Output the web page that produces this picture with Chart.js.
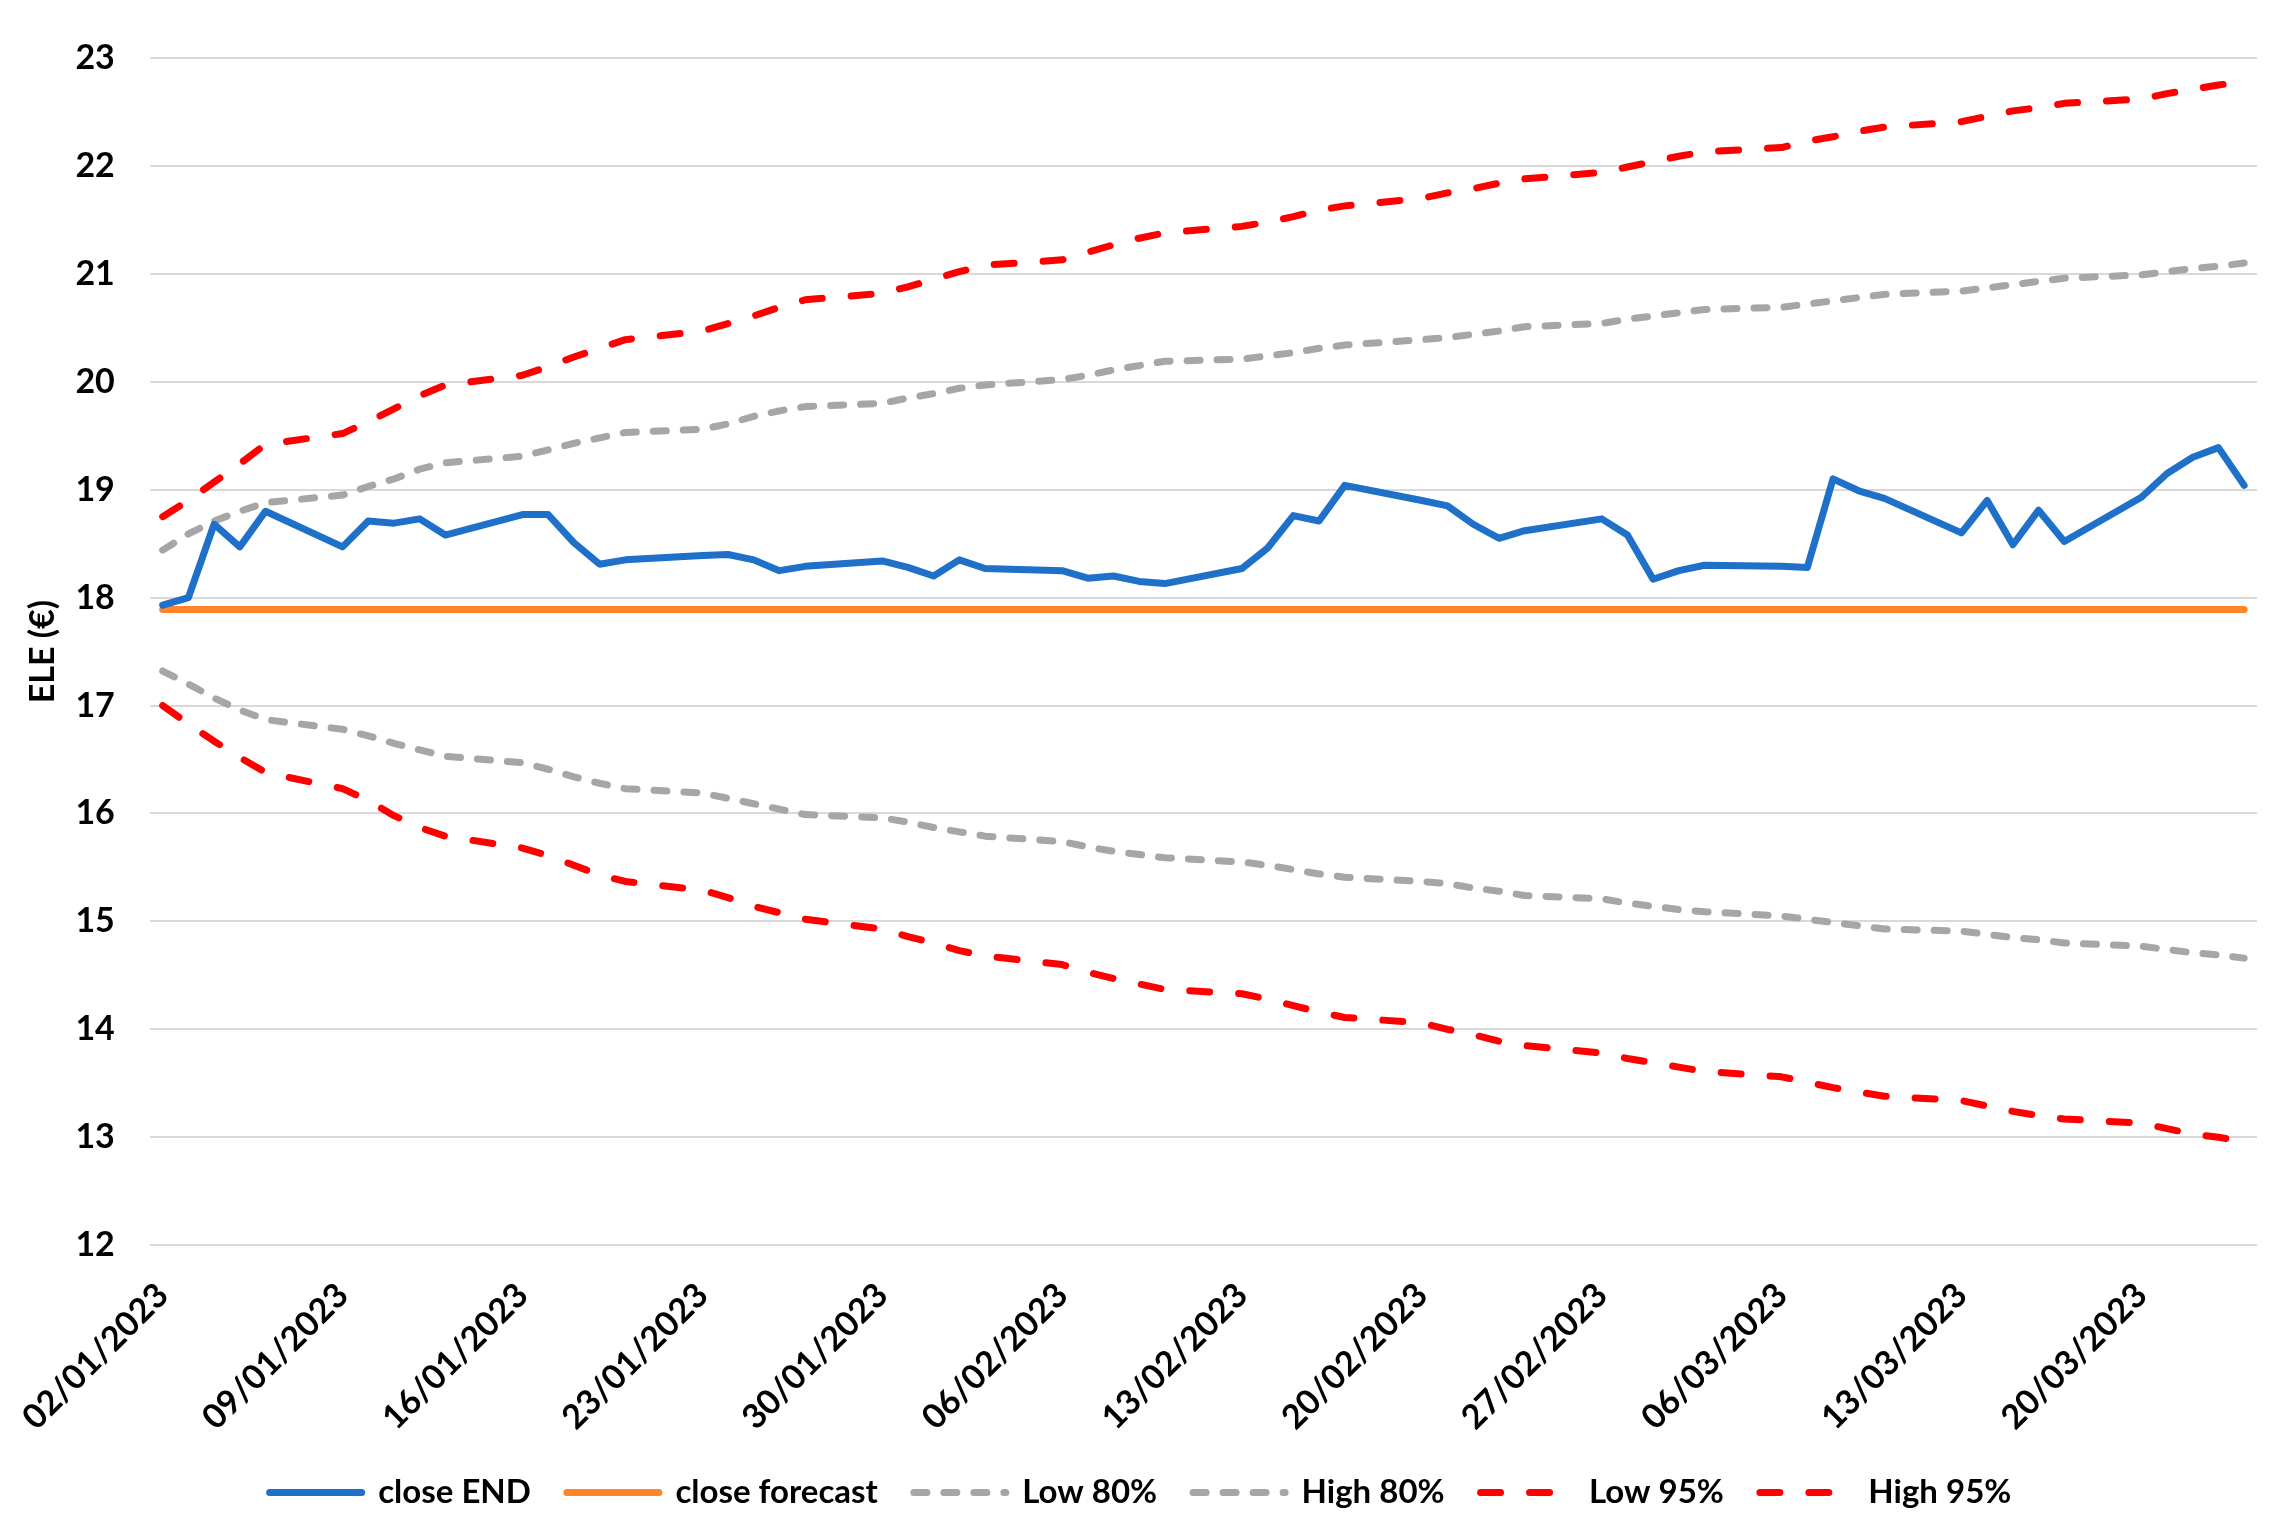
<!DOCTYPE html>
<html>
<head>
<meta charset="utf-8">
<title>ELE forecast</title>
<script src="https://cdn.jsdelivr.net/npm/chart.js@4/dist/chart.umd.min.js"></script>
<style>
  html, body { margin: 0; padding: 0; background: #fff; }
  #wrap { width: 2292px; height: 1540px; }
</style>
</head>
<body>
<div id="wrap"><canvas id="chart"></canvas></div>
<script>
// trading days shown on the chart
var dates = [
  "02/01/2023", "03/01/2023", "04/01/2023", "05/01/2023", "06/01/2023",
  "09/01/2023", "10/01/2023", "11/01/2023", "12/01/2023", "13/01/2023",
  "16/01/2023", "17/01/2023", "18/01/2023", "19/01/2023", "20/01/2023",
  "23/01/2023", "24/01/2023", "25/01/2023", "26/01/2023", "27/01/2023",
  "30/01/2023", "31/01/2023", "01/02/2023", "02/02/2023", "03/02/2023",
  "06/02/2023", "07/02/2023", "08/02/2023", "09/02/2023", "10/02/2023",
  "13/02/2023", "14/02/2023", "15/02/2023", "16/02/2023", "17/02/2023",
  "20/02/2023", "21/02/2023", "22/02/2023", "23/02/2023", "24/02/2023",
  "27/02/2023", "28/02/2023", "01/03/2023", "02/03/2023", "03/03/2023",
  "06/03/2023", "07/03/2023", "08/03/2023", "09/03/2023", "10/03/2023",
  "13/03/2023", "14/03/2023", "15/03/2023", "16/03/2023", "17/03/2023",
  "20/03/2023", "21/03/2023", "22/03/2023", "23/03/2023", "24/03/2023"
];

var closeEnd = [
  17.93, 18.00, 18.68, 18.47, 18.80,
  18.47, 18.71, 18.69, 18.73, 18.58,
  18.77, 18.77, 18.51, 18.31, 18.35,
  18.39, 18.40, 18.35, 18.25, 18.29,
  18.34, 18.28, 18.20, 18.35, 18.27,
  18.25, 18.18, 18.20, 18.15, 18.13,
  18.27, 18.46, 18.76, 18.71, 19.04,
  18.90, 18.85, 18.68, 18.55, 18.62,
  18.73, 18.58, 18.17, 18.25, 18.30,
  18.29, 18.28, 19.10, 18.99, 18.92,
  18.60, 18.90, 18.49, 18.81, 18.52,
  18.93, 19.15, 19.30, 19.39, 19.04
];

var closeForecast = [
  17.89, 17.89, 17.89, 17.89, 17.89,
  17.89, 17.89, 17.89, 17.89, 17.89,
  17.89, 17.89, 17.89, 17.89, 17.89,
  17.89, 17.89, 17.89, 17.89, 17.89,
  17.89, 17.89, 17.89, 17.89, 17.89,
  17.89, 17.89, 17.89, 17.89, 17.89,
  17.89, 17.89, 17.89, 17.89, 17.89,
  17.89, 17.89, 17.89, 17.89, 17.89,
  17.89, 17.89, 17.89, 17.89, 17.89,
  17.89, 17.89, 17.89, 17.89, 17.89,
  17.89, 17.89, 17.89, 17.89, 17.89,
  17.89, 17.89, 17.89, 17.89, 17.89
];

var low80 = [
  17.32, 17.20, 17.07, 16.96, 16.87,
  16.78, 16.72, 16.65, 16.59, 16.53,
  16.47, 16.41, 16.34, 16.28, 16.23,
  16.19, 16.14, 16.09, 16.04, 15.99,
  15.96, 15.92, 15.87, 15.83, 15.79,
  15.74, 15.69, 15.65, 15.62, 15.59,
  15.55, 15.52, 15.48, 15.44, 15.41,
  15.37, 15.35, 15.31, 15.28, 15.24,
  15.21, 15.17, 15.14, 15.11, 15.09,
  15.05, 15.02, 14.99, 14.96, 14.93,
  14.91, 14.88, 14.85, 14.83, 14.80,
  14.77, 14.74, 14.71, 14.69, 14.66
];

var high80 = [
  18.44, 18.59, 18.71, 18.80, 18.88,
  18.95, 19.03, 19.10, 19.19, 19.25,
  19.31, 19.37, 19.43, 19.48, 19.53,
  19.56, 19.61, 19.68, 19.73, 19.77,
  19.80, 19.85, 19.89, 19.94, 19.97,
  20.02, 20.06, 20.11, 20.15, 20.19,
  20.21, 20.24, 20.27, 20.31, 20.34,
  20.39, 20.41, 20.44, 20.47, 20.51,
  20.54, 20.58, 20.61, 20.64, 20.67,
  20.69, 20.72, 20.75, 20.78, 20.81,
  20.84, 20.87, 20.90, 20.93, 20.96,
  20.99, 21.02, 21.05, 21.07, 21.10
];

var low95 = [
  17.00, 16.83, 16.67, 16.52, 16.38,
  16.23, 16.12, 15.98, 15.87, 15.79,
  15.68, 15.61, 15.52, 15.43, 15.37,
  15.29, 15.22, 15.14, 15.08, 15.02,
  14.93, 14.86, 14.80, 14.73, 14.68,
  14.60, 14.53, 14.47, 14.42, 14.37,
  14.33, 14.28, 14.22, 14.16, 14.11,
  14.06, 14.00, 13.95, 13.89, 13.85,
  13.78, 13.73, 13.69, 13.65, 13.61,
  13.56, 13.51, 13.46, 13.42, 13.38,
  13.34, 13.29, 13.24, 13.20, 13.17,
  13.13, 13.08, 13.03, 13.00, 12.96
];

var high95 = [
  18.75, 18.90, 19.07, 19.24, 19.42,
  19.52, 19.63, 19.75, 19.87, 19.97,
  20.06, 20.14, 20.23, 20.31, 20.39,
  20.47, 20.54, 20.61, 20.69, 20.76,
  20.82, 20.88, 20.95, 21.02, 21.08,
  21.13, 21.20, 21.27, 21.33, 21.38,
  21.44, 21.48, 21.53, 21.59, 21.63,
  21.70, 21.75, 21.79, 21.84, 21.88,
  21.94, 21.99, 22.04, 22.09, 22.13,
  22.17, 22.23, 22.27, 22.32, 22.36,
  22.41, 22.46, 22.51, 22.54, 22.58,
  22.62, 22.67, 22.71, 22.75, 22.78
];

var tickLabels = [
  "02/01/2023", "09/01/2023", "16/01/2023", "23/01/2023", "30/01/2023", "06/02/2023",
  "13/02/2023", "20/02/2023", "27/02/2023", "06/03/2023", "13/03/2023", "20/03/2023"
];

// days since the first date, so weekends leave gaps like a date axis
function dayOf(s) {
  var p = s.split("/");
  return Date.UTC(+p[2], +p[1] - 1, +p[0]);
}
var start = dayOf(dates[0]);
function toDay(s) {
  return Math.round((dayOf(s) - start) / 86400000);
}
var days = dates.map(toDay);
var tickDays = tickLabels.map(toDay);

function points(values) {
  return values.map(function (v, i) {
    return { x: days[i], y: v };
  });
}

var font = "Lato, 'Noto Sans', sans-serif";

function series(label, values, color, dash) {
  return {
    label: label,
    data: points(values),
    borderColor: color,
    backgroundColor: color,
    borderWidth: 7,
    borderDash: dash || [],
    borderCapStyle: "round",
    borderJoinStyle: "round",
    pointRadius: 0,
    pointHoverRadius: 0,
    tension: 0,
    fill: false,
  };
}

var ctx = document.getElementById("chart").getContext("2d");
var chart = new Chart(ctx, {
  type: "line",
  data: {
    datasets: [
      series("close END", closeEnd, "#1f70c8"),
      series("close forecast", closeForecast, "#ff8528"),
      series("Low 80%", low80, "#a6a6a6", [13, 17]),
      series("High 80%", high80, "#a6a6a6", [13, 17]),
      series("Low 95%", low95, "#ff0000", [20, 29]),
      series("High 95%", high95, "#ff0000", [20, 29]),
    ],
  },
  options: {
    responsive: true,
    maintainAspectRatio: false,
    animation: false,
    events: [],
    layout: {
      padding: { left: 24, right: 35, top: 58, bottom: 21 },
    },
    scales: {
      x: {
        type: "linear",
        min: -0.5,
        max: 81.5,
        grid: { display: false },
        border: { display: false },
        afterBuildTicks: function (axis) {
          axis.ticks = tickDays.map(function (d) {
            return { value: d };
          });
        },
        // drop the unused padding below the rotated labels
        afterFit: function (axis) {
          axis.height -= 20;
        },
        ticks: {
          autoSkip: false,
          minRotation: 45,
          maxRotation: 45,
          padding: 22,
          color: "#000",
          font: { family: font, size: 34, weight: "bold" },
          callback: function (value) {
            var i = tickDays.indexOf(value);
            return i >= 0 ? tickLabels[i] : "";
          },
        },
      },
      y: {
        min: 12,
        max: 23,
        grid: { color: "#d9d9d9", lineWidth: 2, drawTicks: false },
        border: { display: false },
        afterFit: function (axis) {
          axis.width -= 35;
        },
        ticks: {
          stepSize: 1,
          padding: 35,
          color: "#000",
          font: { family: font, size: 34, weight: "bold" },
        },
        title: {
          display: true,
          text: "ELE (€)",
          color: "#000",
          padding: { top: 0, bottom: 14 },
          font: { family: font, size: 34, weight: "bold", lineHeight: 1.1 },
        },
      },
    },
    plugins: {
      tooltip: { enabled: false },
      legend: {
        position: "bottom",
        labels: {
          usePointStyle: true,
          pointStyleWidth: 92,
          padding: 36,
          color: "#000",
          font: { family: font, size: 33, weight: "bold" },
          generateLabels: function (chart) {
            return chart.data.datasets.map(function (ds, i) {
              return {
                text: ds.label,
                datasetIndex: i,
                fillStyle: ds.borderColor,
                strokeStyle: ds.borderColor,
                fontColor: "#000",
                lineWidth: ds.borderWidth,
                lineDash: ds.borderDash,
                lineCap: ds.borderCapStyle,
                pointStyle: "line",
                hidden: false,
              };
            });
          },
        },
      },
    },
  },
});
</script>
</body>
</html>
